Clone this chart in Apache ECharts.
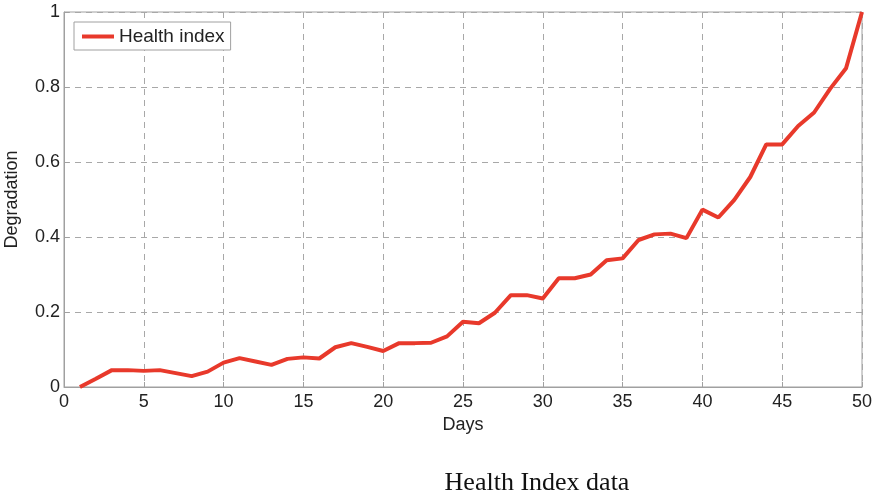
<!DOCTYPE html>
<html>
<head>
<meta charset="utf-8">
<script src="https://cdn.jsdelivr.net/npm/echarts@6/dist/echarts.min.js"></script>
<style>html,body{margin:0;padding:0;background:#fff;}#c{width:875px;height:496px;}</style>
</head>
<body>
<div id="c"></div>
<script>
const days = [1,2,3,4,5,6,7,8,9,10,11,12,13,14,15,16,17,18,19,20,21,22,23,24,25,26,27,28,29,30,31,32,33,34,35,36,37,38,39,40,41,42,43,44,45,46,47,48,49,50];
const healthIndex = [0,0.022,0.045,0.045,0.043,0.045,0.037,0.029,0.041,0.065,0.077,0.068,0.059,0.075,0.079,0.076,0.106,0.117,0.107,0.096,0.117,0.117,0.118,0.135,0.174,0.17,0.198,0.245,0.245,0.236,0.29,0.29,0.3,0.338,0.343,0.392,0.407,0.409,0.397,0.473,0.452,0.499,0.56,0.647,0.647,0.696,0.732,0.795,0.85,1.0];
const xTicks = [0,5,10,15,20,25,30,35,40,45,50];
const yTicks = [0,0.2,0.4,0.6,0.8,1];
const seriesName = 'Health index';

const chart = echarts.init(document.getElementById('c'), null, {renderer:'canvas'});
const font = 'Liberation Sans, Arial, sans-serif';
chart.setOption({
  animation:false,
  title:{text:'Health Index data', left:532, top:465, textAlign:'center',
    textStyle:{fontFamily:'Liberation Serif, Times New Roman, serif', fontSize:26, fontWeight:'normal', color:'#111'}},
  grid:{left:64, right:13, top:12, bottom:109, show:true, borderColor:'#a0a0a0', borderWidth:1,
    outerBoundsMode:'none', containLabel:false},
  legend:{show:true, left:74, top:22, orient:'vertical', backgroundColor:'#fff', borderColor:'#a0a0a0', borderWidth:1,
    padding:[5,6,4,8], itemWidth:32, itemHeight:4, itemGap:4,
    textStyle:{fontFamily:font, fontSize:19, color:'#222'},
    data:[{name:seriesName, icon:'rect'}]},
  xAxis:{type:'value', min:0, max:50, interval:5,
    name:'Days', nameLocation:'middle', nameGap:26,
    nameTextStyle:{fontFamily:font, fontSize:18, color:'#222'},
    axisLine:{show:true, lineStyle:{color:'#a0a0a0'}},
    axisTick:{show:true, inside:true, length:5, lineStyle:{color:'#a0a0a0'}},
    axisLabel:{fontFamily:font, fontSize:18, color:'#222', margin:6,
      formatter:v=>xTicks.includes(v)?String(v):''},
    splitLine:{show:true, lineStyle:{type:[6,5], color:'#a8a8a8'}}},
  yAxis:{type:'value', min:0, max:1, interval:0.2,
    name:'Degradation', nameLocation:'middle', nameGap:43, nameRotate:90,
    nameTextStyle:{fontFamily:font, fontSize:18, color:'#222'},
    axisLine:{show:true, lineStyle:{color:'#a0a0a0'}},
    axisTick:{show:true, inside:true, length:5, lineStyle:{color:'#a0a0a0'}},
    axisLabel:{fontFamily:font, fontSize:18, color:'#222', margin:4,
      formatter:v=>{const t=yTicks.find(y=>Math.abs(y-v)<1e-9); return t===undefined?'':String(Math.round(t*10)/10);}},
    splitLine:{show:true, lineStyle:{type:[6,5], color:'#a8a8a8'}}},
  series:[{name:seriesName, type:'line', data:days.map((d,i)=>[d,healthIndex[i]]),
    showSymbol:false, lineStyle:{color:'#e8392b', width:4}, itemStyle:{color:'#e8392b'}}]
});
</script>
</body>
</html>
